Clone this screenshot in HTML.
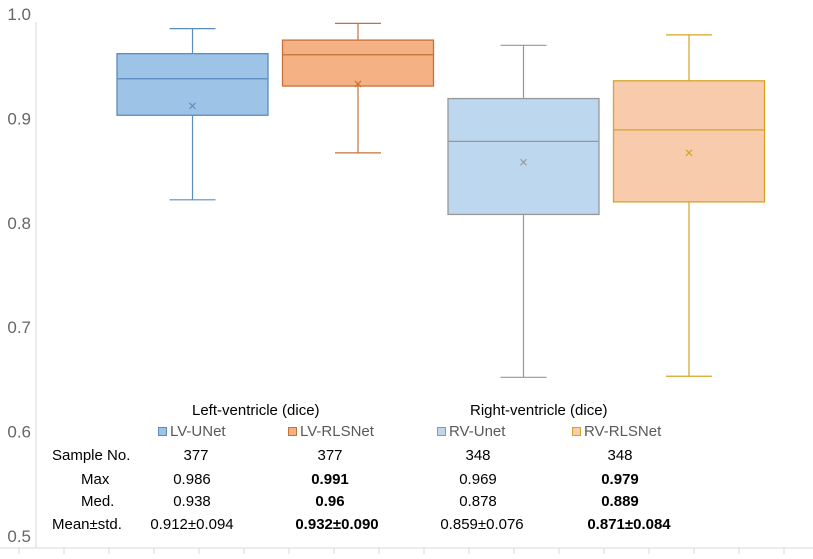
<!DOCTYPE html>
<html><head><meta charset="utf-8"><style>
body{margin:0;background:#fff;}
svg text{font-family:"Liberation Sans",sans-serif;}
</style></head><body>
<svg id="chart" width="813" height="554" xmlns="http://www.w3.org/2000/svg"></svg>
<script>
const categories=["LV-UNet","LV-RLSNet","RV-Unet","RV-RLSNet"];
const maxVals=[0.986,0.991,0.970,0.980];
const q3Vals=[0.962,0.975,0.919,0.936];
const medVals=[0.938,0.961,0.878,0.889];
const q1Vals=[0.903,0.931,0.808,0.820];
const minVals=[0.822,0.867,0.652,0.653];
const meanVals=[0.912,0.933,0.858,0.867];
const yTicks=[1.0,0.9,0.8,0.7,0.6,0.5];
const fills=["#9dc3e6","#f4b183","#bdd7ee","#f8cbad"];
const strokes=["#5b8cbf","#c87137","#979797","#d6a425"];
const NS="http://www.w3.org/2000/svg";
const svg=document.getElementById('chart');
function y(v){return 14+(1-v)*1044;}
function xc(i){return 192.5+i*165.5;}
function el(t,a,p){const e=document.createElementNS(NS,t);for(const k in a)e.setAttribute(k,a[k]);(p||svg).appendChild(e);return e;}
const ax=el('line',{x1:36,y1:22,x2:36,y2:548,stroke:'#d9d9d9'});


const bx=el('line',{x1:0,y1:548,x2:813,y2:548,stroke:'#d9d9d9'});


for(let t=19;t<813;t+=45){const tk=el('line',{x1:t,y1:548,x2:t,y2:554,stroke:'#d9d9d9'});

}
yTicks.forEach(v=>{const t=el('text',{x:31,y:y(v)+6,'text-anchor':'end','font-size':17,fill:'#666'});t.textContent=v.toFixed(1);

});
categories.forEach((c,i)=>{
const g=el('g',{});


const cx=xc(i),w=151,s=strokes[i];
el('line',{x1:cx,y1:y(maxVals[i]),x2:cx,y2:y(q3Vals[i]),stroke:s,'stroke-width':1.2},g);
el('line',{x1:cx,y1:y(q1Vals[i]),x2:cx,y2:y(minVals[i]),stroke:s,'stroke-width':1.2},g);
el('line',{x1:cx-23,y1:y(maxVals[i]),x2:cx+23,y2:y(maxVals[i]),stroke:s,'stroke-width':1.2},g);
el('line',{x1:cx-23,y1:y(minVals[i]),x2:cx+23,y2:y(minVals[i]),stroke:s,'stroke-width':1.2},g);
el('rect',{x:cx-w/2,y:y(q3Vals[i]),width:w,height:y(q1Vals[i])-y(q3Vals[i]),fill:fills[i],stroke:s,'stroke-width':1.3},g);
el('line',{x1:cx-w/2,y1:y(medVals[i]),x2:cx+w/2,y2:y(medVals[i]),stroke:s,'stroke-width':1.2},g);
const my=y(meanVals[i]);
el('path',{d:`M${cx-3} ${my-3}L${cx+3} ${my+3}M${cx+3} ${my-3}L${cx-3} ${my+3}`,stroke:s,'stroke-width':1.2},g);
});
</script>
<div style="position:absolute;left:0;top:2px;width:813px;height:552px;font-family:'Liberation Sans',sans-serif;font-size:15px;color:#000;pointer-events:none">
<div style="position:absolute;left:192px;top:400px">Left-ventricle (dice)</div>
<div style="position:absolute;left:470px;top:400px">Right-ventricle (dice)</div>
<div style="position:absolute;left:158px;top:421px;color:#595959"><span style="display:inline-block;width:7px;height:7px;background:#9dc3e6;border:1px solid #5b8cbf;margin-right:3px"></span>LV-UNet</div>
<div style="position:absolute;left:288px;top:421px;color:#595959"><span style="display:inline-block;width:7px;height:7px;background:#f4b183;border:1px solid #c87137;margin-right:3px"></span>LV-RLSNet</div>
<div style="position:absolute;left:437px;top:421px;color:#595959"><span style="display:inline-block;width:7px;height:7px;background:#bdd7ee;border:1px solid #979797;margin-right:3px"></span>RV-Unet</div>
<div style="position:absolute;left:572px;top:421px;color:#595959"><span style="display:inline-block;width:7px;height:7px;background:#f8cbad;border:1px solid #d6a425;margin-right:3px"></span>RV-RLSNet</div>
<div style="position:absolute;left:52px;top:445px">Sample No.</div>
<div style="position:absolute;left:81px;top:469px">Max</div>
<div style="position:absolute;left:81px;top:491px">Med.</div>
<div style="position:absolute;left:52px;top:514px">Mean±std.</div>
<div>
<div style="position:absolute;left:121px;width:150px;text-align:center;top:445px">377</div>
<div style="position:absolute;left:255px;width:150px;text-align:center;top:445px">377</div>
<div style="position:absolute;left:403px;width:150px;text-align:center;top:445px">348</div>
<div style="position:absolute;left:545px;width:150px;text-align:center;top:445px">348</div>
<div style="position:absolute;left:117px;width:150px;text-align:center;top:469px">0.986</div>
<div style="position:absolute;left:255px;width:150px;text-align:center;top:469px;font-weight:bold">0.991</div>
<div style="position:absolute;left:403px;width:150px;text-align:center;top:469px">0.969</div>
<div style="position:absolute;left:545px;width:150px;text-align:center;top:469px;font-weight:bold">0.979</div>
<div style="position:absolute;left:117px;width:150px;text-align:center;top:491px">0.938</div>
<div style="position:absolute;left:255px;width:150px;text-align:center;top:491px;font-weight:bold">0.96</div>
<div style="position:absolute;left:403px;width:150px;text-align:center;top:491px">0.878</div>
<div style="position:absolute;left:545px;width:150px;text-align:center;top:491px;font-weight:bold">0.889</div>
<div style="position:absolute;left:117px;width:150px;text-align:center;top:514px">0.912±0.094</div>
<div style="position:absolute;left:262px;width:150px;text-align:center;top:514px;font-weight:bold">0.932±0.090</div>
<div style="position:absolute;left:407px;width:150px;text-align:center;top:514px">0.859±0.076</div>
<div style="position:absolute;left:554px;width:150px;text-align:center;top:514px;font-weight:bold">0.871±0.084</div>
</div>
</div>
</body></html>
